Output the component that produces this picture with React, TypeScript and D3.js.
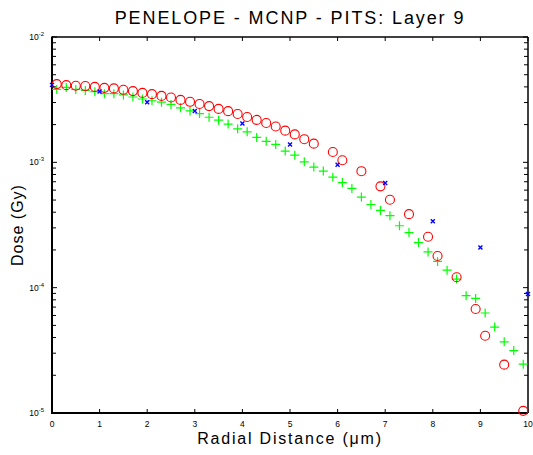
import * as React from 'react'
import * as d3 from 'd3'

// PENELOPE (red circles), step 0.2 um
const penX = [
  0.1, 0.3, 0.5, 0.7, 0.9, 1.1, 1.3, 1.5, 1.7, 1.9, 2.1, 2.3, 2.5, 2.7, 2.9, 3.1, 3.3, 3.5, 3.7, 3.9, 4.1, 4.3, 4.5,
  4.7, 4.9, 5.1, 5.3, 5.5, 5.9, 6.1, 6.5, 6.9, 7.1, 7.5, 7.9, 8.1, 8.5, 8.9, 9.1, 9.5, 9.9,
]
const penDose = [
  4.21e-3, 4.13e-3, 4.08e-3, 4.06e-3, 4.0e-3, 3.93e-3, 3.89e-3, 3.79e-3, 3.7e-3, 3.58e-3, 3.5e-3, 3.39e-3, 3.29e-3,
  3.15e-3, 3.04e-3, 2.92e-3, 2.81e-3, 2.67e-3, 2.56e-3, 2.43e-3, 2.3e-3, 2.18e-3, 2.06e-3, 1.93e-3, 1.79e-3, 1.67e-3,
  1.53e-3, 1.41e-3, 1.21e-3, 1.04e-3, 8.5e-4, 6.43e-4, 5.03e-4, 3.86e-4, 2.55e-4, 1.79e-4, 1.21e-4, 6.76e-5, 4.13e-5,
  2.43e-5, 1.04e-5,
]

// MCNP (blue crosses), integer um
const mcnpX = [0, 1, 2, 3, 4, 5, 6, 7, 8, 9, 10]
const mcnpDose = [4.15e-3, 3.68e-3, 3.02e-3, 2.57e-3, 2.04e-3, 1.39e-3, 9.55e-4, 6.83e-4, 3.39e-4, 2.09e-4, 8.9e-5]

// PITS (green pluses)
const pitsX = [
  0.1, 0.3, 0.5, 0.7, 0.9, 1.1, 1.3, 1.5, 1.7, 1.9, 2.1, 2.3, 2.5, 2.7, 2.9, 3.1, 3.3, 3.5, 3.7, 3.9, 4.1, 4.3, 4.5,
  4.7, 4.9, 5.1, 5.3, 5.5, 5.7, 5.9, 6.1, 6.3, 6.5, 6.7, 6.9, 7.1, 7.3, 7.5, 7.7, 7.9, 8.1, 8.3, 8.5, 8.7, 8.9, 9.1,
  9.3, 9.5, 9.7, 9.9,
]
const pitsDose = [
  3.82e-3, 3.96e-3, 3.82e-3, 3.75e-3, 3.66e-3, 3.53e-3, 3.53e-3, 3.45e-3, 3.32e-3, 3.2e-3, 3.1e-3, 3.02e-3, 2.9e-3,
  2.72e-3, 2.57e-3, 2.45e-3, 2.29e-3, 2.17e-3, 2.02e-3, 1.85e-3, 1.75e-3, 1.58e-3, 1.47e-3, 1.39e-3, 1.23e-3, 1.14e-3,
  1.01e-3, 9.17e-4, 8.51e-4, 7.62e-4, 6.89e-4, 6.19e-4, 5.28e-4, 4.61e-4, 4.13e-4, 3.75e-4, 3.12e-4, 2.75e-4, 2.29e-4,
  1.93e-4, 1.62e-4, 1.38e-4, 1.17e-4, 8.63e-5, 8.2e-5, 6.28e-5, 4.85e-5, 3.7e-5, 3.15e-5, 2.45e-5,
]

const xTicks = [0, 1, 2, 3, 4, 5, 6, 7, 8, 9, 10]
const yExponents = [-5, -4, -3, -2]

const W = 533
const H = 455
const margin = { left: 52, right: 5, top: 37, bottom: 42 }
const font = '"Liberation Sans", Arial, sans-serif'

export default function App() {
  const x = d3.scaleLinear().domain([0, 10]).range([margin.left, W - margin.right])
  const y = d3.scaleLog().domain([1e-5, 1e-2]).range([H - margin.bottom, margin.top])
  const [x0, x1] = x.range()
  const [yb, yt] = y.range()

  // minor ticks 2..9 for each decade
  const minor: number[] = []
  for (let e = -5; e < -2; e++) for (let m = 2; m <= 9; m++) minor.push(m * Math.pow(10, e))

  const tick = 4

  return (
    <svg width={W} height={H} style={{ position: 'absolute', left: 0, top: 0, background: '#fff' }} fontFamily={font}>
      <rect width={W} height={H} fill="#fff" />

      {/* ticks */}
      {xTicks.map((t) => (
        <g key={'xt' + t}>
          <line x1={x(t)} x2={x(t)} y1={yb} y2={yb - tick} stroke="#000" strokeWidth={1} />
          <line x1={x(t)} x2={x(t)} y1={yt} y2={yt + tick} stroke="#000" strokeWidth={1} />
          <text x={x(t)} y={yb + 14} textAnchor="middle" fontSize={8.5} fill="#000">
            {t}
          </text>
        </g>
      ))}
      {yExponents.map((e) => (
        <g key={'yt' + e}>
          <line x1={x0} x2={x0 + tick + 1} y1={y(Math.pow(10, e))} y2={y(Math.pow(10, e))} stroke="#000" strokeWidth={1} />
          <line x1={x1} x2={x1 - tick - 1} y1={y(Math.pow(10, e))} y2={y(Math.pow(10, e))} stroke="#000" strokeWidth={1} />
          <text x={x0 - 8} y={y(Math.pow(10, e)) + 3} textAnchor="end" fontSize={8.5} fill="#000">
            10
            <tspan fontSize={6} dy={-4}>
              {e}
            </tspan>
          </text>
        </g>
      ))}
      {minor.map((v, i) => (
        <g key={'mn' + i}>
          <line x1={x0} x2={x0 + tick} y1={y(v)} y2={y(v)} stroke="#000" strokeWidth={1} />
          <line x1={x1} x2={x1 - tick} y1={y(v)} y2={y(v)} stroke="#000" strokeWidth={1} />
        </g>
      ))}

      {/* frame */}
      <line x1={x0} x2={x1} y1={yt} y2={yt} stroke="#000" strokeWidth={1.5} />
      <line x1={x1} x2={x1} y1={yt} y2={yb} stroke="#000" strokeWidth={1.5} />
      <line x1={x0} x2={x0} y1={yt - 0.5} y2={yb + 1} stroke="#000" strokeWidth={2} />
      <line x1={x0 - 1} x2={x1} y1={yb} y2={yb} stroke="#000" strokeWidth={2} />

      {/* PITS */}
      {pitsX.map((d, i) => {
        const cx = x(d)
        const cy = y(pitsDose[i])
        return (
          <path key={'p' + i} d={`M${cx - 4.5},${cy}H${cx + 4.5}M${cx},${cy - 4.5}V${cy + 4.5}`} stroke="#00ff00" strokeWidth={1.2} fill="none" />
        )
      })}

      {/* PENELOPE */}
      {penX.map((d, i) => (
        <circle key={'c' + i} cx={x(d)} cy={y(penDose[i])} r={4.5} fill="none" stroke="#ff0000" strokeWidth={1.1} />
      ))}

      {/* MCNP */}
      {mcnpX.map((d, i) => {
        const cx = x(d)
        const cy = y(mcnpDose[i])
        const s = 2
        return (
          <path
            key={'m' + i}
            d={`M${cx - s},${cy - s}L${cx + s},${cy + s}M${cx - s},${cy + s}L${cx + s},${cy - s}`}
            stroke="#0000ff"
            strokeWidth={1.4}
            fill="none"
          />
        )
      })}

      {/* labels */}
      <text x={(x0 + x1) / 2} y={24} textAnchor="middle" fontSize={18} letterSpacing={1.9} fill="#000">
        PENELOPE - MCNP - PITS: Layer 9
      </text>
      <text x={(x0 + x1) / 2} y={444} textAnchor="middle" fontSize={16} letterSpacing={1.8} fill="#000">
        Radial Distance (μm)
      </text>
      <text
        transform={`translate(23,${(yt + yb) / 2}) rotate(-90)`}
        textAnchor="middle"
        fontSize={16}
        letterSpacing={1}
        fill="#000"
      >
        Dose (Gy)
      </text>
    </svg>
  )
}
